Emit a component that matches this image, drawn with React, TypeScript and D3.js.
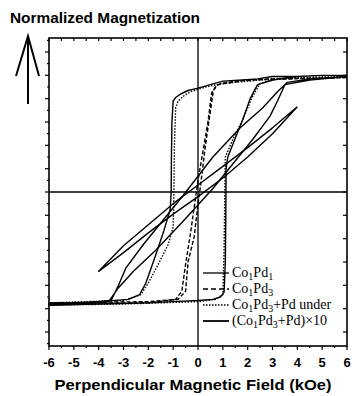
import React from 'react';
import * as d3 from 'd3';

// field in kOe, magnetization normalized
const fieldTicks = [-6, -5, -4, -3, -2, -1, 0, 1, 2, 3, 4, 5, 6];
const legendLabels = ['Co_1Pd_1', 'Co_1Pd_3', 'Co_1Pd_3+Pd under', '(Co_1Pd_3+Pd)×10'];

// square loop, Co1Pd1
const co1pd1H = [6, 5, 4, 3, 2.4, 1.8, 1, 0.5, 0, -0.4, -0.7, -0.9, -1, -1.05, -1.07, -1.08, -1.12, -1.4, -1.8, -2.1, -2.35, -2.8, -4, -5, -6,
  -6, -4, -2, -1, 0, 0.6, 0.9, 1.05, 1.1, 1.12, 1.13, 1.2, 1.5, 1.8, 2.1, 2.4, 3, 4, 5, 6];
const co1pd1M = [1, 1, 0.99, 0.99, 0.97, 0.96, 0.95, 0.92, 0.89, 0.87, 0.84, 0.81, 0.78, 0.6, 0.3, 0, -0.15, -0.35, -0.6, -0.78, -0.88, -0.92, -0.94, -0.95, -0.95,
  -0.97, -0.96, -0.95, -0.94, -0.93, -0.92, -0.9, -0.86, -0.6, -0.2, 0.2, 0.3, 0.46, 0.62, 0.8, 0.92, 0.96, 0.99, 1, 1];

// narrow steep loop, Co1Pd3
const co1pd3H = [6, 3, 1.5, 0.9, 0.7, 0.55, 0.4, 0.2, 0, -0.1, -0.3, -0.5, -0.65, -0.9, -2, -6,
  -6, -2, -0.8, -0.5, -0.4, -0.15, 0, 0.1, 0.3, 0.45, 0.62, 0.8, 2, 6];
const co1pd3M = [0.98, 0.97, 0.95, 0.93, 0.9, 0.85, 0.6, 0.35, 0.1, -0.05, -0.35, -0.62, -0.85, -0.92, -0.94, -0.95,
  -0.96, -0.95, -0.92, -0.85, -0.6, -0.38, -0.1, 0.05, 0.4, 0.62, 0.87, 0.92, 0.96, 0.98];

// wide sheared loop, Co1Pd3
const co1pd3WideH = [6, 4.5, 3.6, 3.2, 2.6, 1.7, 0.6, -0.6, -1.4, -2.2, -2.9, -3.2, -3.5, -4.5, -6,
  -6, -4.5, -3.6, -3.2, -2.6, -1.7, -0.6, 0.6, 1.4, 2.2, 2.9, 3.2, 3.5, 4.5, 6];
const co1pd3WideM = [0.99, 0.97, 0.94, 0.86, 0.72, 0.55, 0.3, -0.03, -0.24, -0.45, -0.65, -0.8, -0.93, -0.95, -0.96,
  -0.97, -0.96, -0.94, -0.82, -0.68, -0.5, -0.25, 0.03, 0.24, 0.45, 0.65, 0.78, 0.92, 0.96, 0.99];

// Co1Pd3 + Pd underlayer
const pdUnderH = [6, 4, 3, 2, 1, 0.3, -0.3, -0.6, -0.8, -0.9, -0.95, -0.97, -1, -1.2, -1.6, -2, -2.3, -3, -6,
  -6, -3, 0, 0.7, 1, 1.05, 1.08, 1.1, 1.4, 1.8, 2.2, 2.5, 3.2, 6];
const pdUnderM = [0.99, 0.98, 0.97, 0.95, 0.93, 0.9, 0.86, 0.82, 0.78, 0.72, 0.4, 0, -0.3, -0.45, -0.62, -0.78, -0.88, -0.93, -0.95,
  -0.97, -0.96, -0.94, -0.92, -0.88, -0.5, 0, 0.3, 0.45, 0.62, 0.82, 0.93, 0.97, 0.99];

// (Co1Pd3+Pd)x10 multilayer
const multiH = [4, 3, 2, 1, 0, -1, -2, -3, -4, -3, -2, -1, 0, 1, 2, 3, 4];
const multiM = [0.73, 0.55, 0.38, 0.22, 0.06, -0.1, -0.28, -0.46, -0.68, -0.52, -0.35, -0.19, -0.04, 0.12, 0.3, 0.5, 0.73];

const x = d3.scaleLinear().domain([-6, 6]).range([49, 347]);
const y = d3.scaleLinear().domain([-1.32, 1.32]).range([346, 38]);

const pts = (hs: number[], ms: number[]) => hs.map((h, i) => [h, ms[i]] as [number, number]);
const line = d3.line<[number, number]>().x(d => x(d[0])).y(d => y(d[1]));

const curves = [
  { d: pts(co1pd1H, co1pd1M), dash: null },
  { d: pts(pdUnderH, pdUnderM), dash: '1.5,1.5' },
  { d: pts(co1pd3H, co1pd3M), dash: '4,2' },
  { d: pts(co1pd3WideH, co1pd3WideM), dash: null },
  { d: pts(multiH, multiM), dash: null },
];
const legendDash = [null, '5,3', '1.5,1.5', null];

const Label = ({ s, x0, y0 }: { s: string; x0: number; y0: number }) => {
  const parts = s.split(/_(\d)/);
  return (
    <text x={x0} y={y0} fontFamily="'Liberation Serif', 'Times New Roman', serif" fontSize={14}>
      {parts.map((p, i) =>
        i % 2 === 1
          ? <tspan key={i} dy={3} fontSize={10}>{p}</tspan>
          : <tspan key={i} dy={i === 0 ? 0 : -3}>{p}</tspan>
      )}
    </text>
  );
};

const App = () => {
  const sans = "'Liberation Sans', Arial, sans-serif";
  const bottomMinor = d3.range(-6, 6.01, 0.5);
  const vMinor = d3.range(-1.3, 1.31, 0.1);
  return (
    <svg width={352} height={396} style={{ position: 'absolute', left: 0, top: 0, background: '#fff' }}>
      <text x={10} y={23} fontFamily={sans} fontWeight="bold" fontSize={14} textLength={190} lengthAdjust="spacingAndGlyphs">Normalized Magnetization</text>
      {/* arrow */}
      <g stroke="#000" strokeWidth={2} fill="none">
        <line x1={28} y1={36} x2={28} y2={104} />
        <polyline points="16,76 28,36 39,76" />
      </g>
      {/* frame */}
      <rect x={x(-6)} y={y(1.32)} width={x(6) - x(-6)} height={y(-1.32) - y(1.32)} fill="none" stroke="#000" strokeWidth={1.6} />
      <line x1={x(-6)} x2={x(6)} y1={y(0)} y2={y(0)} stroke="#000" strokeWidth={1.3} />
      <line x1={x(0)} x2={x(0)} y1={y(1.32)} y2={y(-1.32)} stroke="#000" strokeWidth={1.3} />
      {/* ticks */}
      <g stroke="#000" strokeWidth={1.2}>
        {bottomMinor.map((v, i) => {
          const len = Number.isInteger(v) ? 4 : 2;
          return (
            <g key={'b' + i}>
              <line x1={x(v)} x2={x(v)} y1={y(-1.32)} y2={y(-1.32) + len} />
              <line x1={x(v)} x2={x(v)} y1={y(1.32)} y2={y(1.32) + 3} />
            </g>
          );
        })}
        {vMinor.map((v, i) => {
          const major = Math.abs(Math.round(v * 10) % 2) === 0;
          const len = major ? 4 : 2;
          return (
            <g key={'v' + i}>
              <line x1={x(-6)} x2={x(-6) - len} y1={y(v)} y2={y(v)} />
              {major && <line x1={x(6)} x2={x(6) - 4} y1={y(v)} y2={y(v)} />}
            </g>
          );
        })}
      </g>
      {fieldTicks.map(t => (
        <text key={t} x={x(t)} y={367} textAnchor="middle" fontFamily={sans} fontWeight="bold" fontSize={13}>{t}</text>
      ))}
      <text x={x(0) - 5} y={390} textAnchor="middle" fontFamily={sans} fontWeight="bold" fontSize={14.5} textLength={277} lengthAdjust="spacingAndGlyphs">Perpendicular Magnetic Field (kOe)</text>
      {/* data */}
      {curves.map((c, i) => (
        <path key={i} d={line(c.d) || ''} fill="none" stroke="#000" strokeWidth={1.4} strokeDasharray={c.dash || undefined} strokeLinejoin="round" />
      ))}
      {/* legend */}
      {legendLabels.map((l, i) => {
        const ly = 273 + i * 16;
        return (
          <g key={l}>
            <line x1={203} x2={229} y1={ly} y2={ly} stroke="#000" strokeWidth={i === 3 ? 1.8 : 1.3} strokeDasharray={legendDash[i] || undefined} />
            <Label s={l} x0={232} y0={ly + 4} />
          </g>
        );
      })}
    </svg>
  );
};

export default App;
